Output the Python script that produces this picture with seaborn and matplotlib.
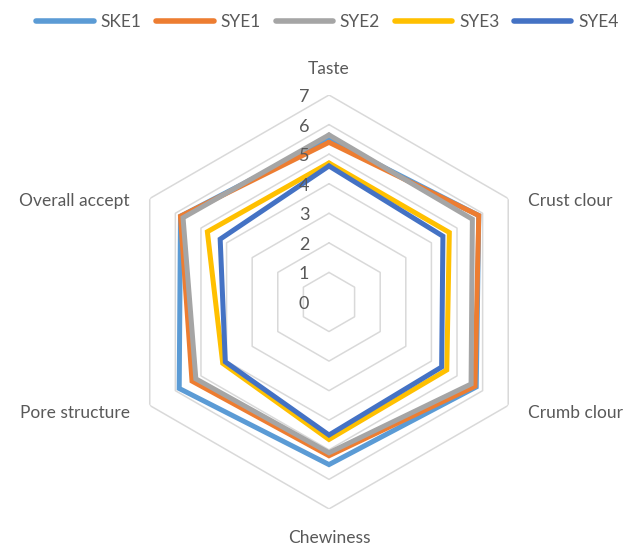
import numpy as np
import pandas as pd
import matplotlib.pyplot as plt
import seaborn as sns

# attributes, clockwise from top
attributes = ['Taste', 'Crust clour', 'Crumb clour', 'Chewiness', 'Pore structure', 'Overall accept']
samples = ['SKE1', 'SYE1', 'SYE2', 'SYE3', 'SYE4']

ske1 = [5.5, 5.85, 5.75, 5.5, 5.85, 5.8]
sye1 = [5.4, 5.85, 5.7, 5.2, 5.35, 5.8]
sye2 = [5.65, 5.6, 5.55, 5.1, 5.2, 5.7]
sye3 = [4.7, 4.7, 4.6, 4.65, 4.15, 4.75]
sye4 = [4.6, 4.45, 4.4, 4.5, 4.05, 4.25]
radial_ticks = [0, 1, 2, 3, 4, 5, 6, 7]

colors = ['#5B9BD5', '#ED7D31', '#A5A5A5', '#FFC000', '#4472C4']
text_color = '#595959'

sns.set_style('white')
plt.rcParams['font.family'] = ['Lato', 'DejaVu Sans']

n = len(attributes)
angles = np.linspace(0, 2 * np.pi, n, endpoint=False)

rows = []
for name, vals in zip(samples, [ske1, sye1, sye2, sye3, sye4]):
    for i in range(n + 1):
        rows.append({'sample': name, 'theta': i * 2 * np.pi / n, 'value': vals[i % n]})
df = pd.DataFrame(rows)

fig = plt.figure(figsize=(6.3, 5.48), dpi=100)
ax = fig.add_axes([0.1937, 0.0712, 0.657, 0.7555], projection='polar')
ax.set_theta_offset(np.pi / 2)
ax.set_theta_direction(-1)

# hexagonal gridlines
ring_theta = np.append(angles, angles[0])
for r in radial_ticks[1:]:
    ax.plot(ring_theta, [r] * (n + 1), color='#D9D9D9', lw=1.1, zorder=1)

sns.lineplot(data=df, x='theta', y='value', hue='sample', palette=colors,
             sort=False, estimator=None, units='sample', lw=3.6,
             solid_joinstyle='miter', ax=ax, zorder=3)

ax.set_ylim(0, 7)
ax.set_xticks([])
ax.set_yticks([])
ax.grid(False)
ax.spines['polar'].set_visible(False)
ax.set_xlabel('')
ax.set_ylabel('')

# radial tick labels
for r in radial_ticks:
    ax.annotate(str(r), xy=(0, r), xytext=(-25, -2), textcoords='offset pixels',
                ha='center', va='center', fontsize=13, color=text_color)

# category labels
offsets = [(0, 26, 'center'), (20, -3, 'left'), (20, -8, 'left'),
           (0, -29, 'center'), (-20, -8, 'right'), (-20, -3, 'right')]
for ang, lab, (dx, dy, ha) in zip(angles, attributes, offsets):
    ax.annotate(lab, xy=(ang, 7), xytext=(dx, dy), textcoords='offset pixels',
                ha=ha, va='center', fontsize=12.5, color=text_color,
                annotation_clip=False)

handles, labels = ax.get_legend_handles_labels()
ax.get_legend().remove()
leg = fig.legend(handles, labels, loc='upper center', ncol=5, frameon=False,
                 bbox_to_anchor=(0.52, 1.003), handlelength=3.3, columnspacing=0.85,
                 handletextpad=0.4, fontsize=12.5)
for h in leg.get_lines():
    h.set_linewidth(4)
    h.set_solid_capstyle('round')
for t in leg.get_texts():
    t.set_color(text_color)

fig.savefig('out.png', dpi=100)
